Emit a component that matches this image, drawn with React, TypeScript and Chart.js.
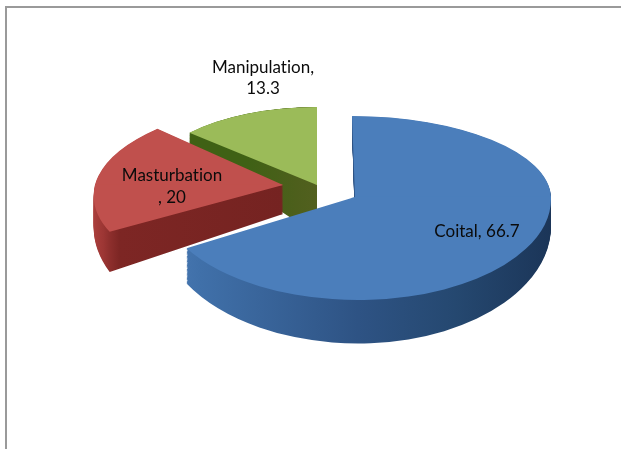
import React, { useEffect, useRef } from "react";
import { Chart, registerables } from "chart.js";

Chart.register(...registerables);

const categories = ["Coital", "Masturbation", "Manipulation"];
const values = [66.7, 20, 13.3];
const faceColors = ["#4b7ebb", "#c0504d", "#9bbb59"];

const RADIUS = 197;
const FONT = '17px Lato';

// how each exploded slice is projected to look like a 3D slab
const projection = [
  { ax: 355, ay: 197, sx: 196 / 197, skew: 0.015, up: 81 / 197, down: 103 / 197, depth: 27, stretch: 0.16,
    side: [[0, "#4a7ab4"], [0.1, "#4070a9"], [0.5, "#2e5384"], [0.75, "#254870"], [1, "#1b3558"]] },
  { ax: 283, ay: 185, sx: 188 / 197, skew: -0.105, up: 84 / 197, down: 94 / 197, depth: 29, stretch: 0.24,
    side: [[0, "#ad403d"], [0.045, "#9c3634"], [0.09, "#7d2624"], [0.5, "#752321"], [1, "#752321"]] },
  { ax: 317, ay: 185, sx: 172 / 197, skew: 0, up: 78 / 197, down: 78 / 197, depth: 50, stretch: 0.6,
    side: [[0, "#3f6115"], [0.3, "#3f6115"], [0.44, "#4d5f1c"], [0.5, "#52601f"], [1, "#52601f"]] },
];
const drawOrder = [2, 1, 0];

const labelLayout = [
  { x: 477, lines: [{ t: (c: string, v: number) => `${c}, ${v}`, y: 237 }] },
  { x: 172, lines: [{ t: (c: string) => c, y: 181 }, { t: (_: string, v: number) => `, ${v}`, y: 203 }] },
  { x: 263, lines: [{ t: (c: string) => `${c},`, y: 73 }, { t: (_: string, v: number) => `${v}`, y: 94 }] },
];

function drawPass(ctx: CanvasRenderingContext2D, arc: any, p: any, fill: any, dy: number, upper: boolean, grow: number) {
  const W = ctx.canvas.width;
  const H = ctx.canvas.height;
  const ty = p.ay + dy;
  ctx.save();
  ctx.beginPath();
  if (upper) ctx.rect(0, 0, W, ty + 0.4);
  else ctx.rect(0, ty - 0.4, W, H);
  ctx.clip();
  ctx.transform(p.sx, 0, p.skew, (upper ? p.up : p.down) * grow, p.ax, ty);
  ctx.translate(-arc.x, -arc.y);
  const saved = arc.options;
  arc.options = { ...saved, backgroundColor: fill };
  arc.draw(ctx);
  arc.options = saved;
  ctx.restore();
}

const slabPlugin = {
  id: "slab",
  beforeDatasetsDraw(chart: any) {
    const ctx = chart.ctx as CanvasRenderingContext2D;
    const arcs = chart.getDatasetMeta(0).data;
    for (const i of drawOrder) {
      const arc = arcs[i];
      const p = projection[i];
      const g = ctx.createLinearGradient(arc.x - RADIUS, 0, arc.x + RADIUS, 0);
      for (const [o, c] of p.side as [number, string][]) g.addColorStop(o, c);
      for (let d = p.depth; d >= 1; d -= 1) {
        const grow = 1 + (d / p.depth) * p.stretch;
        drawPass(ctx, arc, p, g, d, true, grow);
        drawPass(ctx, arc, p, g, d, false, grow);
      }
      drawPass(ctx, arc, p, faceColors[i], 0, true, 1);
      drawPass(ctx, arc, p, faceColors[i], 0, false, 1);
    }
    return false;
  },
  afterDraw(chart: any) {
    const ctx = chart.ctx as CanvasRenderingContext2D;
    ctx.save();
    ctx.font = FONT;
    (ctx as any).textRendering = "optimizeSpeed";
    ctx.fillStyle = "#0b0b0b";
    ctx.textAlign = "center";
    ctx.textBaseline = "alphabetic";
    labelLayout.forEach((l, i) => {
      for (const line of l.lines) ctx.fillText(line.t(categories[i], values[i]), l.x, line.y);
    });
    ctx.restore();
  },
};

export default function App() {
  const ref = useRef<HTMLCanvasElement>(null);
  useEffect(() => {
    const chart = new Chart(ref.current as HTMLCanvasElement, {
      type: "pie",
      data: {
        labels: categories,
        datasets: [{ data: values, backgroundColor: faceColors, borderWidth: 0, radius: RADIUS } as any],
      },
      options: {
        animation: false,
        responsive: false,
        plugins: { legend: { display: false }, tooltip: { enabled: false } },
      },
      plugins: [slabPlugin],
    } as any);
    return () => chart.destroy();
  }, []);
  return (
    <div style={{ position: "fixed", left: 0, top: 0, width: 621, height: 449, background: "#fff", overflow: "hidden" }}>
      <div style={{ position: "absolute", left: 5, top: 6, width: 616, height: 2, background: "#9a9a9a" }} />
      <div style={{ position: "absolute", left: 5, top: 6, width: 2, height: 443, background: "#9a9a9a" }} />
      <canvas ref={ref} width={621} height={449} style={{ position: "absolute", left: 0, top: 0 }} />
    </div>
  );
}
